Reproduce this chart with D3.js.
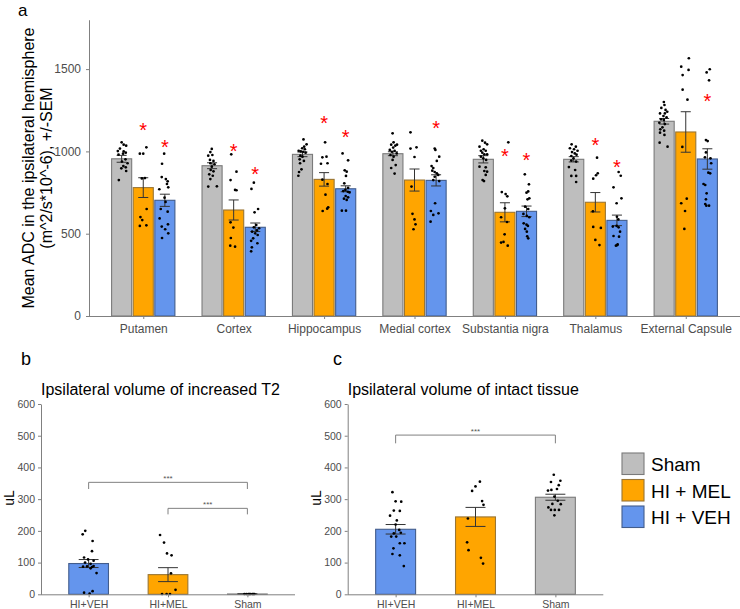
<!DOCTYPE html>
<html>
<head>
<meta charset="utf-8">
<script src="https://cdn.jsdelivr.net/npm/d3@7"></script>
<style>
  body { margin: 0; background: #fff; }
  svg { font-family: "Liberation Sans", Arial, sans-serif; display: block; }
</style>
</head>
<body>
<svg id="chart" width="740" height="609"></svg>
<script>
/** panel a data: mean ADC per region and group */
let regions = ["Putamen", "Cortex", "Hippocampus", "Medial cortex", "Substantia nigra", "Thalamus", "External Capsule"];
let adcGroups = ["Sham", "HI + MEL", "HI + VEH"];
let shamMean = [955, 913, 982, 986, 952, 952, 1183];
let melMean  = [780, 644, 830, 826, 630, 691, 1118];
let vehMean  = [703, 539, 773, 824, 636, 581, 954];
let shamSem = [21, 18, 14, 12, 22, 16, 17];
let melSem  = [60, 61, 41, 67, 58, 59, 123];
let vehSem  = [37, 26, 18, 34, 32, 32, 62];
let melStar = [1160, 1027, 1199, null, 1002, 1067, null];
let vehStar = [1055, 887, 1116, 1171, 978, 934, 1335];

/** individual animals: [value, jitter as fraction of half bar] */
let shamDots = [
  [[1055,0],[1041,.2],[1035,.45],[1017,-.17],[1002,-.38],[1000,.2],[992,.41],[980,-.31],[986,.14],[952,.38],[938,.03],[928,.59],[911,.17],[897,-.03],[903,.41],[881,.45],[826,-.28]],
  [[1015,-.03],[996,-.17],[974,-.38],[978,.03],[948,-.21],[942,.14],[928,-.17],[922,.24],[907,-.03],[887,-.14],[879,.14],[861,-.28],[852,.07],[832,-.17],[786,-.38],[788,.48]],
  [[1073,.1],[1043,.41],[1029,.17],[1019,-.03],[1013,.24],[1004,-.38],[1000,-.17],[998,.07],[992,.31],[974,-.21],[968,0],[952,-.28],[942,.14],[928,-.24],[891,-.1],[875,-.34],[852,-.41]],
  [[1110,-.03],[1055,.07],[1041,-.17],[1035,.24],[1041,.41],[1023,.03],[1009,-.31],[998,-.1],[1004,.17],[988,.38],[978,-.24],[968,.07],[948,-.03],[917,.28],[899,-.17],[865,.17]],
  [[1065,-.1],[1053,.17],[1043,.38],[1029,-.38],[1013,.03],[1004,-.24],[1004,.24],[992,-.1],[982,.1],[982,.38],[968,-.24],[958,0],[948,.28],[907,-.38],[903,.24],[881,.1],[877,.38],[857,.24],[826,-.07],[820,.07]],
  [[1043,-.21],[1029,.21],[1019,-.38],[1013,.03],[1004,.38],[996,-.17],[988,.1],[980,.28],[972,-.24],[958,-.03],[944,-.24],[938,.24],[905,-.48],[887,.14],[851,-.24],[851,.24],[814,.24]],
  [[1300,-.03],[1282,.03],[1264,-.28],[1252,.14],[1241,.31],[1231,.07],[1231,-.41],[1215,-.07],[1207,.24],[1195,-.31],[1191,-.03],[1174,-.48],[1166,.07],[1146,-.17],[1134,-.38],[1126,0],[1114,-.41],[1100,.03],[1053,-.45],[1029,.34]]
];
let melDots = [
  [[1025,.31],[986,-.34],[986,0],[836,-.14],[838,.17],[650,.34],[601,-.28],[583,-.1],[547,-.34],[551,.31]],
  [[982,-.24],[877,.28],[826,-.31],[766,.14],[764,.28],[569,-.31],[537,-.03],[474,-.28],[427,-.34],[421,.14]],
  [[1055,.1],[964,-.17],[968,.24],[928,.34],[925,-.31],[828,-.17],[802,.34],[737,.14],[660,.41],[638,-.14],[652,.31]],
  [[1116,-.4],[1025,.2],[1017,-.4],[966,0],[786,-.3],[621,-.2],[587,0],[557,.1],[527,-.1]],
  [[1055,.34],[753,-.31],[741,.07],[727,.24],[654,0],[600,-.38],[571,.21],[496,-.03],[446,-.38],[450,-.14],[427,.28]],
  [[962,.17],[867,.24],[855,.07],[834,-.21],[636,-.24],[541,-.21],[535,.55],[462,0],[431,.41]],
  [[1566,.31],[1515,-.45],[1495,.28],[1464,-.31],[1375,-.31],[1314,.17],[1027,-.34],[713,.1],[685,-.45],[638,-.07],[529,-.14]]
];
let vehDots = [
  [[986,-.07],[925,-.28],[844,-.31],[832,.1],[818,.28],[802,.21],[782,.34],[770,-.55],[719,-.03],[693,.07],[650,-.41],[634,.28],[593,-.52],[543,-.31],[557,.31],[527,.03],[502,.34],[474,-.28]],
  [[810,-.14],[772,-.38],[650,.28],[630,-.07],[553,.1],[539,-.14],[533,.38],[520,.17],[512,-.31],[502,0],[492,.24],[472,-.21],[457,-.41],[442,.21],[417,-.34],[393,-.41]],
  [[988,-.31],[946,.24],[885,-.1],[877,.1],[851,.03],[806,-.14],[778,.24],[766,-.03],[759,-.24],[755,.21],[751,.38],[729,0],[721,.24],[713,-.17],[705,.1],[640,-.38],[640,.03]],
  [[1017,-.14],[1009,-.07],[968,.31],[942,.07],[911,-.45],[899,-.28],[883,-.38],[875,-.14],[867,.07],[857,.21],[846,-.14],[826,-.28],[820,.31],[685,-.1],[638,-.52],[614,-.28],[624,.24],[573,-.55]],
  [[861,-.17],[800,.24],[757,.17],[749,0],[715,.28],[709,.1],[664,-.14],[650,.17],[620,-.31],[608,.03],[600,.28],[563,-.28],[555,0],[547,.14],[529,-.14],[512,.03],[484,.07],[472,.17]],
  [[875,.17],[852,.38],[782,-.34],[715,.45],[685,-.03],[603,0],[587,.14],[543,-.41],[547,-.03],[539,.17],[512,.31],[486,-.34],[482,.21],[431,.03],[427,-.1],[435,.07]],
  [[1499,.24],[1480,-.07],[1432,.17],[1069,-.14],[1063,.03],[994,-.14],[964,-.24],[958,.31],[928,.38],[867,.28],[871,.1],[802,-.38],[796,-.21],[745,-.07],[709,-.14],[680,-.21],[670,-.1],[670,.17]]
];
let adcTicks = [0, 500, 1000, 1500];

/** panels b and c data: volumes in uL */
let volGroups = ["HI+VEH", "HI+MEL", "Sham"];
let t2Mean = [97, 62, 1];
let t2Sem = [12.6, 22, 0.5];
let t2Dots = [
  [[200,-.17],[189,-.3],[168,.2],[136,.17],[116,-.23],[110,-.03],[106,.25],[100,-.18],[96,.1],[87,-.28],[88,-.08],[86,.17],[89,.25],[67,.4],[82,.1],[5,-.23],[2,.05],[10,.2]],
  [[187,-.4],[163,-.2],[129,-.05],[123,.18],[66,.15],[14,.38],[1,-.3],[1,-.07],[1,.1]],
  [[1,-.15],[1,-.05],[1,.05],[1,.15],[1,.25],[1,.35],[1,.1],[1,.3]]
];
let t2Brackets = [["HI+VEH", "Sham", 353, 332], ["HI+MEL", "Sham", 271, 252]];
let intactMean = [205, 244, 306];
let intactSem = [15, 30, 9.5];
let intactDots = [
  [[322,-.16],[293,0],[292,.28],[264,-.09],[263,.21],[248,-.28],[233,.06],[220,0],[203,.18],[192,-.09],[182,-.22],[182,.03],[194,.26],[161,.21],[161,.44],[145,-.11],[127,-.16],[123,.21],[89,.41]],
  [[355,.22],[340,0],[326,-.17],[294,.33],[282,.4],[239,-.38],[164,-.42],[139,-.35],[115,.27],[97,.38]],
  [[377,-.08],[354,-.22],[358,.25],[344,.17],[329,-.2],[327,-.37],[332,.08],[308,-.05],[295,.12],[285,-.15],[284,.27],[274,-.35],[266,-.22],[266,-.03],[266,.18],[249,-.05]]
];
let intactBrackets = [["HI+VEH", "Sham", 502, 476]];
let volTicks = [0, 100, 200, 300, 400, 500, 600];

/** colours */
let fillOf = { "Sham": "#bebebe", "HI + MEL": "#ffa500", "HI + VEH": "#6495ed", "HI+MEL": "#ffa500", "HI+VEH": "#6495ed" };
let strokeOf = { "Sham": "#7a7a7a", "HI + MEL": "#9a7634", "HI + VEH": "#435d8c", "HI+MEL": "#9a7634", "HI+VEH": "#435d8c" };
let axisGrey = "#808080", tickText = "#4d4d4d";

let svg = d3.select('#chart');

function styleAxis(g, fs) {
  g.select('.domain').attr('stroke', axisGrey);
  g.selectAll('.tick line').attr('stroke', axisGrey);
  g.selectAll('.tick text').attr('fill', tickText).style('font-size', fs + 'px');
}

function drawDots(g, pts, cx, half, y) {
  g.selectAll(null).data(pts).enter().append('circle')
    .attr('cx', d => cx + d[1] * half)
    .attr('cy', d => y(d[0]))
    .attr('r', 1.35)
    .attr('fill', '#000');
}

function drawErr(g, cx, m, s, capW, y) {
  g.append('line').attr('x1', cx).attr('x2', cx).attr('y1', y(m - s)).attr('y2', y(m + s))
    .attr('stroke', '#333').attr('stroke-width', 1);
  [m - s, m + s].forEach(v => {
    g.append('line').attr('x1', cx - capW / 2).attr('x2', cx + capW / 2).attr('y1', y(v)).attr('y2', y(v))
      .attr('stroke', '#333').attr('stroke-width', 1);
  });
}

/* ---------------- panel a ---------------- */
let aLeft = 89, aRight = 740, aBottom = 316;
let xA = d3.scalePoint().domain(regions).range([aLeft, aRight]).padding(0.6);
let groupW = xA.step() * 0.7;
let xInner = d3.scaleBand().domain(adcGroups).range([-groupW / 2, groupW / 2]).paddingInner(0.07);
let yA = d3.scaleLinear().domain([0, 1800]).range([aBottom, aBottom - 1800 * 0.1646]);

let gA = svg.append('g');
let meansA = [shamMean, melMean, vehMean], semsA = [shamSem, melSem, vehSem], dotsA = [shamDots, melDots, vehDots];

regions.forEach((r, i) => {
  adcGroups.forEach((grp, k) => {
    let x0 = xA(r) + xInner(grp);
    gA.append('rect')
      .attr('x', x0).attr('y', yA(meansA[k][i]))
      .attr('width', xInner.bandwidth()).attr('height', aBottom - yA(meansA[k][i]))
      .attr('fill', fillOf[grp]).attr('stroke', strokeOf[grp]).attr('stroke-width', 1.1);
  });
});
regions.forEach((r, i) => {
  adcGroups.forEach((grp, k) => {
    let cx = xA(r) + xInner(grp) + xInner.bandwidth() / 2;
    drawErr(gA, cx, meansA[k][i], semsA[k][i], xInner.bandwidth() / 2, yA);
    drawDots(gA, dotsA[k][i], cx, xInner.bandwidth() / 2, yA);
  });
});
/** red stars over the HI groups */
[[melStar, "HI + MEL"], [vehStar, "HI + VEH"]].forEach(([stars, grp]) => {
  regions.forEach((r, i) => {
    if (stars[i] == null) return;
    gA.append('text')
      .attr('x', xA(r) + xInner(grp) + xInner.bandwidth() / 2)
      .attr('y', yA(stars[i]) + 11.5)
      .attr('text-anchor', 'middle')
      .attr('fill', '#ff0000')
      .style('font-size', '20px')
      .text('*');
  });
});

let axA_x = svg.append('g').attr('transform', `translate(0,${aBottom})`)
  .call(d3.axisBottom(xA).tickSize(3).tickSizeOuter(0).tickPadding(5));
axA_x.select('.domain').attr('d', `M${aLeft},0.5H${aRight}`);
styleAxis(axA_x, 12);
let axA_y = svg.append('g').attr('transform', `translate(${aLeft},0)`)
  .call(d3.axisLeft(yA).tickValues(adcTicks).tickFormat(d3.format('d')).tickSize(3).tickSizeOuter(0).tickPadding(5));
styleAxis(axA_y, 12);

svg.append('text').attr('transform', 'translate(34,168) rotate(-90)')
  .attr('text-anchor', 'middle').style('font-size', '16px').attr('fill', '#000')
  .text('Mean ADC in the ipsilateral hemisphere');
svg.append('text').attr('transform', 'translate(52,168) rotate(-90)')
  .attr('text-anchor', 'middle').style('font-size', '16px').attr('fill', '#000')
  .text('(m^2/s*10^-6), +/-SEM');
svg.append('text').attr('x', 18).attr('y', 16).style('font-size', '17px').text('a');

/* ---------------- panels b and c ---------------- */
function volPanel(left, right, letter, letterX, title, means, sems, dots, brackets) {
  let bottom = 594.3;
  let x = d3.scalePoint().domain(volGroups).range([left, right]).padding(0.6);
  let y = d3.scaleLinear().domain([0, 600]).range([bottom, 404]);
  let bw = x.step() * 0.5;
  let g = svg.append('g');

  volGroups.forEach((grp, i) => {
    g.append('rect')
      .attr('x', x(grp) - bw / 2).attr('y', y(means[i]))
      .attr('width', bw).attr('height', bottom - y(means[i]))
      .attr('fill', fillOf[grp]).attr('stroke', strokeOf[grp]).attr('stroke-width', 1.1);
  });
  volGroups.forEach((grp, i) => {
    drawErr(g, x(grp), means[i], sems[i], bw / 2, y);
    drawDots(g, dots[i], x(grp), bw / 2, y);
  });

  /** significance brackets */
  brackets.forEach(b => {
    let x1 = x(b[0]), x2 = x(b[1]), yt = y(b[2]), yb = y(b[3]);
    g.append('path').attr('d', `M${x1},${yb}V${yt}H${x2}V${yb}`)
      .attr('fill', 'none').attr('stroke', axisGrey).attr('stroke-width', 1);
    g.append('text').attr('x', (x1 + x2) / 2).attr('y', yt - 1.5)
      .attr('text-anchor', 'middle').attr('fill', '#555').style('font-size', '8px').text('***');
  });

  let ax = svg.append('g').attr('transform', `translate(0,${bottom})`)
    .call(d3.axisBottom(x).tickSize(3).tickSizeOuter(0).tickPadding(3));
  ax.select('.domain').attr('d', `M${left},0.5H${right}`);
  styleAxis(ax, 10.5);
  let ay = svg.append('g').attr('transform', `translate(${left},0)`)
    .call(d3.axisLeft(y).tickValues(volTicks).tickSize(3).tickSizeOuter(0).tickPadding(3));
  styleAxis(ay, 10.5);

  svg.append('text').attr('x', left).attr('y', 395).style('font-size', '16px').text(title);
  svg.append('text').attr('transform', `translate(${left - 27},498) rotate(-90)`)
    .attr('text-anchor', 'middle').style('font-size', '14px').text('uL');
  svg.append('text').attr('x', letterX).attr('y', 365).style('font-size', '18px').text(letter);
}

volPanel(41, 295, 'b', 21, 'Ipsilateral volume of increased T2', t2Mean, t2Sem, t2Dots, t2Brackets);
volPanel(347.7, 603.3, 'c', 333, 'Ipsilateral volume of intact tissue', intactMean, intactSem, intactDots, intactBrackets);

/* ---------------- legend ---------------- */
let legend = svg.append('g').attr('transform', 'translate(622,453)');
adcGroups.forEach((grp, i) => {
  legend.append('rect').attr('x', 0).attr('y', i * 26.5).attr('width', 22).attr('height', 21.5)
    .attr('fill', fillOf[grp]).attr('stroke', strokeOf[grp]).attr('stroke-width', 1.1);
  legend.append('text').attr('x', 29).attr('y', i * 26.5 + 18).style('font-size', '19px').text(grp);
});
</script>
</body>
</html>
